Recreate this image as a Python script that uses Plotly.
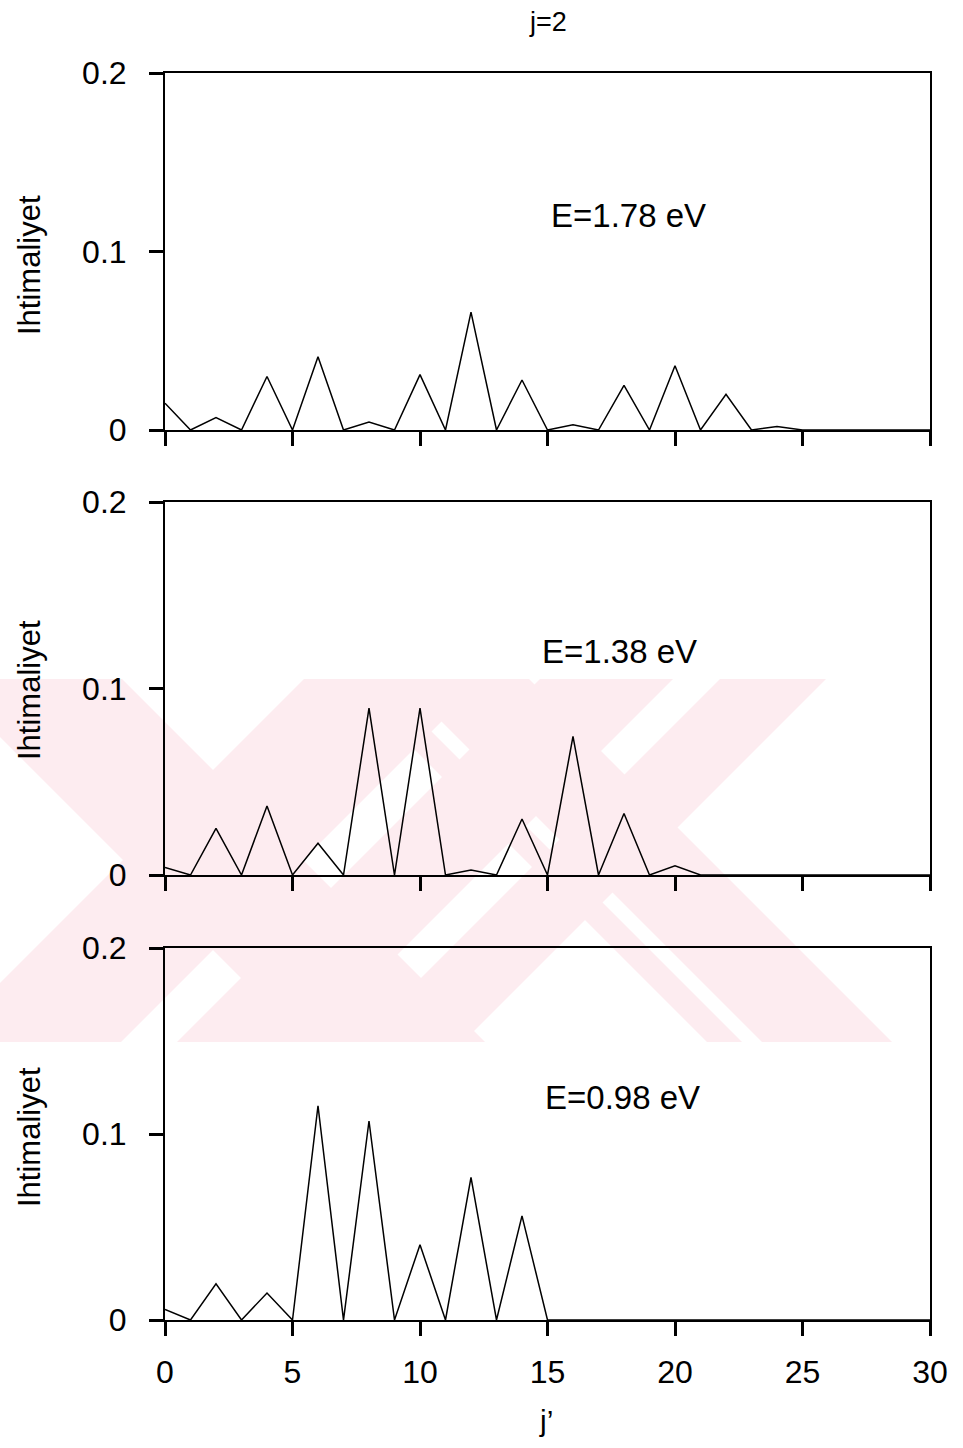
import plotly.graph_objects as go

# ---------------- data ----------------
j_prime = list(range(31))
prob_E178 = [0.015, 0, 0.007, 0, 0.030, 0, 0.041, 0, 0.0045, 0, 0.031, 0, 0.066, 0, 0.028, 0,
             0.003, 0, 0.025, 0, 0.036, 0, 0.020, 0, 0.002, 0, 0, 0, 0, 0, 0]
prob_E138 = [0.004, 0, 0.025, 0, 0.037, 0, 0.017, 0, 0.0895, 0, 0.0895, 0, 0.0027, 0, 0.030, 0,
             0.0743, 0, 0.033, 0, 0.005, 0, 0, 0, 0, 0, 0, 0, 0, 0, 0]
prob_E098 = [0.0057, 0, 0.0194, 0, 0.0145, 0, 0.1152, 0, 0.107, 0, 0.0405, 0, 0.0767, 0, 0.056, 0,
             0, 0, 0, 0, 0, 0, 0, 0, 0, 0, 0, 0, 0, 0, 0]
series = [prob_E178, prob_E138, prob_E098]
energy_labels = ["E=1.78 eV", "E=1.38 eV", "E=0.98 eV"]
y_ticks = [0, 0.1, 0.2]
y_tick_text = ["0", "0.1", "0.2"]
x_ticks = [0, 5, 10, 15, 20, 25, 30]
x_tick_text = ["0", "5", "10", "15", "20", "25", "30"]
title_text = "j=2"
x_title = "j\u2019"
y_title = "Ihtimaliyet"

# ---------------- layout geometry (pixels) ----------------
W, H = 963, 1448
L, R, T, B = 165, 33, 73, 128
PW, PH = W - L - R, H - T - B


def px_x(px):
    return (px - L) / PW


def px_y(py):
    return (H - B - py) / PH


panels = [(73, 430), (502, 875), (948, 1320)]  # top, bottom pixel of each plot area
label_pos = [(628, 215), (619, 652), (622, 1097)]
ytitle_y = [265, 690, 1137]

FONT = "Liberation Sans, Arial, Helvetica, sans-serif"
TICK_SIZE = 32

fig = go.Figure()

# ---------------- watermark (decorative background logo) ----------------
WM = (0, 900, 679, 1042)  # xmin xmax ymin ymax


def clip(poly, inside, inter):
    out = []
    n = len(poly)
    for i in range(n):
        cur, prev = poly[i], poly[i - 1]
        if inside(cur):
            if not inside(prev):
                out.append(inter(prev, cur))
            out.append(cur)
        elif inside(prev):
            out.append(inter(prev, cur))
    return out


def clip_x(poly, xl, xr):
    def ix(p, q, xv):
        t = (xv - p[0]) / (q[0] - p[0])
        return (xv, p[1] + t * (q[1] - p[1]))
    poly = clip(poly, lambda p: p[0] >= xl, lambda p, q: ix(p, q, xl))
    if poly:
        poly = clip(poly, lambda p: p[0] <= xr, lambda p, q: ix(p, q, xr))
    return poly


def stripe(kind, a, b):
    x0, x1, y0, y1 = WM
    if kind == "\\":  # y = x + c
        pts = [(y0 - a, y0), (y1 - a, y1), (y1 - b, y1), (y0 - b, y0)]
    else:  # y = -x + d
        pts = [(a - y0, y0), (a - y1, y1), (b - y1, y1), (b - y0, y0)]
    return clip_x(pts, x0, x1)


stripes = [("\\", 557, 737), ("/", 983, 1163),            # left X
           ("\\", 150, 280), ("\\", 300, 335),             # right X
           ("/", 1219, 1352), ("/", 1399, 1505)]
for kind, a, b in stripes:
    poly = stripe(kind, a, b)
    if len(poly) < 3:
        continue
    path = "M " + " L ".join(f"{px_x(p[0]):.5f},{px_y(p[1]):.5f}" for p in poly) + " Z"
    fig.add_shape(type="path", path=path, xref="paper", yref="paper",
                  fillcolor="#fdecf0", line=dict(width=0), layer="below")

# ---------------- traces & axes ----------------
for i, (vals, (ptop, pbot)) in enumerate(zip(series, panels)):
    n = "" if i == 0 else str(i + 1)
    fig.add_trace(go.Scatter(x=j_prime, y=vals, mode="lines",
                             line=dict(color="black", width=1.5),
                             xaxis="x" + n, yaxis="y" + n, showlegend=False))
    last = i == len(series) - 1
    fig.layout["xaxis" + n] = dict(
        domain=[0, 1], anchor="y" + n, range=[0, 30], tickvals=x_ticks,
        ticktext=x_tick_text, showticklabels=last, ticks="outside", ticklen=14,
        tickwidth=3, tickcolor="black", showline=True, linecolor="black",
        linewidth=2, mirror=True, showgrid=False, zeroline=False,
        tickfont=dict(family=FONT, size=TICK_SIZE, color="black"), ticklabelstandoff=9)
    fig.layout["yaxis" + n] = dict(
        domain=[px_y(pbot), px_y(ptop)], anchor="x" + n, range=[0, 0.2],
        tickvals=y_ticks, ticktext=y_tick_text, ticks="outside", ticklen=14,
        tickwidth=3, tickcolor="black", showline=True, linecolor="black",
        linewidth=2, mirror=True, showgrid=False, zeroline=False,
        tickfont=dict(family=FONT, size=TICK_SIZE, color="black"), ticklabelstandoff=16)
    fig.add_annotation(text=energy_labels[i], xref="paper", yref="paper",
                       x=px_x(label_pos[i][0]), y=px_y(label_pos[i][1]),
                       showarrow=False, xanchor="center", yanchor="middle",
                       font=dict(family=FONT, size=33, color="black"))
    fig.add_annotation(text=y_title, xref="paper", yref="paper",
                       x=px_x(29), y=px_y(ytitle_y[i]), textangle=-90,
                       showarrow=False, xanchor="center", yanchor="middle",
                       font=dict(family=FONT, size=31, color="black"))

fig.add_annotation(text=title_text, xref="paper", yref="paper",
                   x=px_x(548), y=px_y(22), showarrow=False,
                   xanchor="center", yanchor="middle",
                   font=dict(family=FONT, size=27, color="black"))
fig.add_annotation(text=x_title, xref="paper", yref="paper",
                   x=px_x(546), y=px_y(1420), showarrow=False,
                   xanchor="center", yanchor="middle",
                   font=dict(family=FONT, size=30, color="black"))

fig.update_layout(width=W, height=H, margin=dict(l=L, r=R, t=T, b=B, pad=0),
                  paper_bgcolor="white", plot_bgcolor="rgba(0,0,0,0)",
                  showlegend=False)

fig.write_html("out.html", config={"displayModeBar": False},
               post_script="document.body.style.margin='0px';")
